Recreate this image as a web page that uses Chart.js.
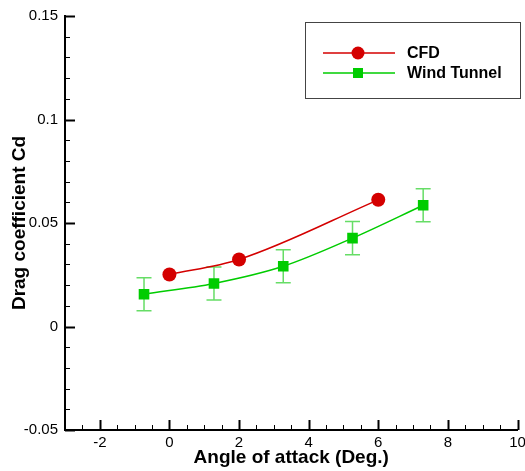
<!DOCTYPE html>
<html>
<head>
<meta charset="utf-8">
<script src="https://cdn.jsdelivr.net/npm/chart.js@4.4.0/dist/chart.umd.min.js"></script>
<style>
  html, body { margin: 0; padding: 0; background: #fff; }
  #wrap { width: 525px; height: 471px; }
</style>
</head>
<body>
<div id="wrap"><canvas id="c" width="525" height="471"></canvas></div>
<script>
// values
const cfdX = [0, 2, 6];
const cfdY = [0.0251, 0.0324, 0.0612];
const wtX = [-0.73, 1.28, 3.27, 5.26, 7.29];
const wtY = [0.0156, 0.0208, 0.0291, 0.0427, 0.0586];
const wtErr = [0.008, 0.008, 0.008, 0.008, 0.008];
const xTicks = [-2, 0, 2, 4, 6, 8, 10];
const xTickLabels = ['-2', '0', '2', '4', '6', '8', '10'];
const yTicks = [-0.05, 0, 0.05, 0.1, 0.15];
const yTickLabels = ['-0.05', '0', '0.05', '0.1', '0.15'];
const seriesNames = ['CFD', 'Wind Tunnel'];

const RED = '#d40000', GREEN = '#00cc00', ERR = '#66dd66';
const FONT = 'Liberation Sans, Arial, sans-serif';

// error bars for the wind tunnel points
const errorBars = {
  id: 'errorBars',
  beforeDatasetsDraw(chart) {
    const {ctx, scales: {x, y}} = chart;
    ctx.save();
    ctx.strokeStyle = ERR;
    ctx.lineWidth = 1.5;
    wtX.forEach((v, i) => {
      const px = x.getPixelForValue(v);
      const top = y.getPixelForValue(wtY[i] + wtErr[i]);
      const bot = y.getPixelForValue(wtY[i] - wtErr[i]);
      ctx.beginPath();
      ctx.moveTo(px, top); ctx.lineTo(px, bot);
      ctx.moveTo(px - 7.5, top); ctx.lineTo(px + 7.5, top);
      ctx.moveTo(px - 7.5, bot); ctx.lineTo(px + 7.5, bot);
      ctx.stroke();
    });
    ctx.restore();
  }
};

// inward major + minor ticks
const inTicks = {
  id: 'inTicks',
  afterDraw(chart) {
    const {ctx, chartArea: a, scales: {x, y}} = chart;
    ctx.save();
    ctx.strokeStyle = '#000';
    for (let k = 0; k <= 26; k++) {
      const v = -3 + k * 0.5;
      const px = Math.round(x.getPixelForValue(v)) + 0.5;
      const major = Math.abs(v % 2) < 1e-9;
      ctx.lineWidth = major ? 2 : 1;
      ctx.beginPath();
      ctx.moveTo(px, a.bottom); ctx.lineTo(px, a.bottom - (major ? 10 : 5));
      ctx.stroke();
    }
    for (let k = 0; k <= 20; k++) {
      const v = -0.05 + k * 0.01;
      const py = Math.round(y.getPixelForValue(v)) + 0.5;
      const major = k % 5 === 0;
      ctx.lineWidth = major ? 2 : 1;
      ctx.beginPath();
      ctx.moveTo(a.left, py); ctx.lineTo(a.left + (major ? 10 : 5), py);
      ctx.stroke();
    }
    ctx.restore();
  }
};

// boxed legend in the upper right
const boxLegend = {
  id: 'boxLegend',
  afterDraw(chart) {
    const ctx = chart.ctx;
    ctx.save();
    ctx.strokeStyle = '#444';
    ctx.lineWidth = 1;
    ctx.strokeRect(305.5, 22.5, 215, 76);
    const rows = [[53, RED, 'circle'], [73, GREEN, 'rect']];
    rows.forEach(([yy, col, shape], i) => {
      ctx.strokeStyle = col;
      ctx.lineWidth = 1.5;
      ctx.beginPath(); ctx.moveTo(323, yy); ctx.lineTo(395, yy); ctx.stroke();
      ctx.fillStyle = col;
      if (shape === 'circle') {
        ctx.beginPath(); ctx.arc(358, yy, 6.5, 0, Math.PI * 2); ctx.fill();
      } else {
        ctx.fillRect(353, yy - 5, 10, 10);
      }
      ctx.fillStyle = '#000';
      ctx.font = 'bold 16px ' + FONT;
      ctx.textBaseline = 'middle';
      ctx.fillText(seriesNames[i], 407, yy + 1);
    });
    ctx.restore();
  }
};

new Chart(document.getElementById('c').getContext('2d'), {
  type: 'scatter',
  data: {
    datasets: [
      {
        label: seriesNames[0],
        data: cfdX.map((v, i) => ({x: v, y: cfdY[i]})),
        showLine: true,
        cubicInterpolationMode: 'monotone',
        borderColor: RED, borderWidth: 1.5,
        pointStyle: 'circle', pointRadius: 7,
        pointBackgroundColor: RED, pointBorderColor: RED, pointBorderWidth: 0
      },
      {
        label: seriesNames[1],
        data: wtX.map((v, i) => ({x: v, y: wtY[i]})),
        showLine: true,
        cubicInterpolationMode: 'monotone',
        borderColor: GREEN, borderWidth: 1.5,
        pointStyle: 'rect', pointRadius: 7.5,
        pointBackgroundColor: GREEN, pointBorderColor: GREEN, pointBorderWidth: 0
      }
    ]
  },
  options: {
    responsive: false,
    animation: false,
    layout: { padding: { top: 16, right: 7, left: 0, bottom: 0 } },
    plugins: { legend: { display: false }, tooltip: { enabled: false } },
    scales: {
      x: {
        type: 'linear', min: -3, max: 10,
        grid: { display: false, drawTicks: false },
        border: { display: true, color: '#000', width: 2 },
        afterBuildTicks: s => { s.ticks = xTicks.map(v => ({value: v})); },
        afterFit: s => { s.height = 41; s.paddingLeft = 0; s.paddingRight = 0; },
        ticks: {
          color: '#000', padding: 4, maxRotation: 0, autoSkip: false,
          font: { family: FONT, size: 15 },
          callback: (v, i) => xTickLabels[i]
        },
        title: {
          display: true, text: 'Angle of attack (Deg.)', color: '#000',
          font: { family: FONT, size: 19, weight: 'bold' },
          padding: { top: 0, bottom: 2 }
        }
      },
      y: {
        type: 'linear', min: -0.05, max: 0.15,
        grid: { display: false, drawTicks: false },
        border: { display: true, color: '#000', width: 2 },
        afterBuildTicks: s => { s.ticks = yTicks.map(v => ({value: v})); },
        afterFit: s => { s.width = 65; s.paddingTop = 0; s.paddingBottom = 0; },
        ticks: {
          color: '#000', padding: 7, autoSkip: false,
          font: { family: FONT, size: 15 },
          callback: (v, i) => yTickLabels[i]
        },
        title: {
          display: true, text: 'Drag coefficient Cd', color: '#000',
          font: { family: FONT, size: 19, weight: 'bold' },
          padding: { top: 8, bottom: 0 }
        }
      }
    }
  },
  plugins: [errorBars, inTicks, boxLegend]
});
</script>
</body>
</html>
